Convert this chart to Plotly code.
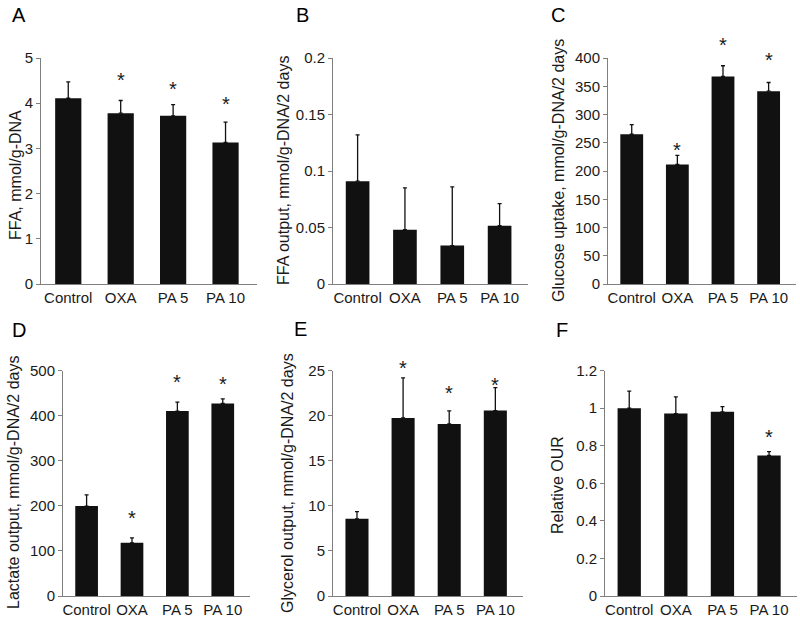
import plotly.graph_objects as go

categories = ["Control", "OXA", "PA 5", "PA 10"]

# Panel A: FFA
ffa = [4.11, 3.78, 3.72, 3.13]
ffa_err = [0.36, 0.28, 0.25, 0.45]
ffa_sig = [None, 4.61, 4.41, 4.08]

# Panel B: FFA output
ffa_out = [0.091, 0.048, 0.034, 0.0516]
ffa_out_err = [0.041, 0.037, 0.052, 0.0195]
ffa_out_sig = [None, None, None, None]

# Panel C: Glucose uptake
glucose = [265, 211.6, 367.3, 341.2]
glucose_err = [17, 16, 19, 15.4]
glucose_sig = [None, 245, 430, 404]

# Panel D: Lactate output
lactate = [199.4, 118, 410, 427]
lactate_err = [25, 11, 20, 10]
lactate_sig = [None, 182, 483, 480]

# Panel E: Glycerol output
glycerol = [8.56, 19.74, 19.07, 20.56]
glycerol_err = [0.8, 4.45, 1.46, 2.54]
glycerol_sig = [None, 25.7, 22.9, 23.8]

# Panel F: Relative OUR
our = [0.999, 0.971, 0.98, 0.748]
our_err = [0.091, 0.089, 0.028, 0.02]
our_sig = [None, None, None, 0.87]

panel_letters = ["A", "B", "C", "D", "E", "F"]
y_titles = [
    "FFA, mmol/g-DNA",
    "FFA output, mmol/g-DNA/2 days",
    "Glucose uptake, mmol/g-DNA/2 days",
    "Lactate output, mmol/g-DNA/2 days",
    "Glycerol output, mmol/g-DNA/2 days",
    "Relative OUR",
]
y_max = [5, 0.2, 400, 500, 25, 1.2]
y_dtick = [1, 0.05, 50, 100, 5, 0.2]

panels = [
    (ffa, ffa_err, ffa_sig),
    (ffa_out, ffa_out_err, ffa_out_sig),
    (glucose, glucose_err, glucose_sig),
    (lactate, lactate_err, lactate_sig),
    (glycerol, glycerol_err, glycerol_sig),
    (our, our_err, our_sig),
]

W, H = 800, 618


def px(x):
    return x / W


def py(y):
    return 1 - y / H


# plot-area boxes in pixels (left, right, top, bottom)
boxes = [
    (41, 257, 58, 284),
    (333, 528, 58, 284),
    (608, 796, 58, 284),
    (63, 250, 370.5, 596),
    (333, 523, 370.5, 596),
    (605, 797, 370.5, 596),
]
title_x = [15, 283, 558, 13, 287, 558]
title_y = [175, 171, 171, 483, 483, 485]
letter_pos = [(19, 15), (302, 15), (558, 15), (19, 330), (300, 329), (562, 330)]

FONT = "Liberation Sans, Arial, sans-serif"
AXIS_GREY = "#7f7f7f"
TEXT = "#1a1a1a"

fig = go.Figure()
layout = dict(
    width=W, height=H,
    margin=dict(l=0, r=0, t=0, b=0, pad=0, autoexpand=False),
    paper_bgcolor="white", plot_bgcolor="white",
    showlegend=False,
    font=dict(family=FONT, size=15, color=TEXT),
)
annotations = []
xpos = list(range(len(categories)))

for i, ((vals, errs, sig), box) in enumerate(zip(panels, boxes)):
    n = i + 1
    xa = "x" if n == 1 else f"x{n}"
    ya = "y" if n == 1 else f"y{n}"
    fig.add_trace(go.Bar(
        x=xpos, y=vals, xaxis=xa, yaxis=ya, width=0.5,
        marker=dict(color="#111111", line=dict(width=0)),
        error_y=dict(type="data", symmetric=False, array=errs,
                     arrayminus=[0] * len(errs), color="#111111",
                     thickness=1.3, width=2),
    ))
    # significance stars, placed in the panel's y-domain so that stars
    # above the top tick are still drawn
    for x, s in zip(xpos, sig):
        if s is None:
            continue
        annotations.append(dict(
            x=x, y=s / y_max[i], xref=xa, yref=f"{ya} domain",
            text="*", showarrow=False, yshift=-4,
            font=dict(size=20, color=TEXT), xanchor="center",
            yanchor="middle",
        ))
    l, r, t, b = box
    layout[f"xaxis{n}"] = dict(
        domain=[px(l), px(r)], anchor=ya, range=[-0.52, 3.6],
        tickvals=xpos, ticktext=categories, showline=True,
        linecolor=AXIS_GREY, linewidth=1, ticks="", showgrid=False,
        zeroline=False, tickfont=dict(size=15, color=TEXT),
        fixedrange=True, automargin=False,
    )
    layout[f"yaxis{n}"] = dict(
        domain=[py(b), py(t)], anchor=xa, range=[0, y_max[i]],
        dtick=y_dtick[i], tick0=0, showline=True, linecolor=AXIS_GREY,
        linewidth=1, ticks="outside", ticklen=4, tickcolor=AXIS_GREY,
        showgrid=False, zeroline=False, tickfont=dict(size=15, color=TEXT),
        fixedrange=True, automargin=False,
    )
    annotations.append(dict(
        x=px(title_x[i]), y=py(title_y[i]), xref="paper", yref="paper",
        text=y_titles[i], textangle=-90, showarrow=False,
        font=dict(size=16, color=TEXT), xanchor="center", yanchor="middle",
    ))
    lx, ly = letter_pos[i]
    annotations.append(dict(
        x=px(lx), y=py(ly), xref="paper", yref="paper",
        text=panel_letters[i], showarrow=False,
        font=dict(size=20, color="#000000"), xanchor="center", yanchor="middle",
    ))

layout["annotations"] = annotations
fig.update_layout(**layout)
fig.write_html(
    "out.html",
    config={"displayModeBar": False, "staticPlot": True},
    post_script="document.body.style.margin='0';",
)
